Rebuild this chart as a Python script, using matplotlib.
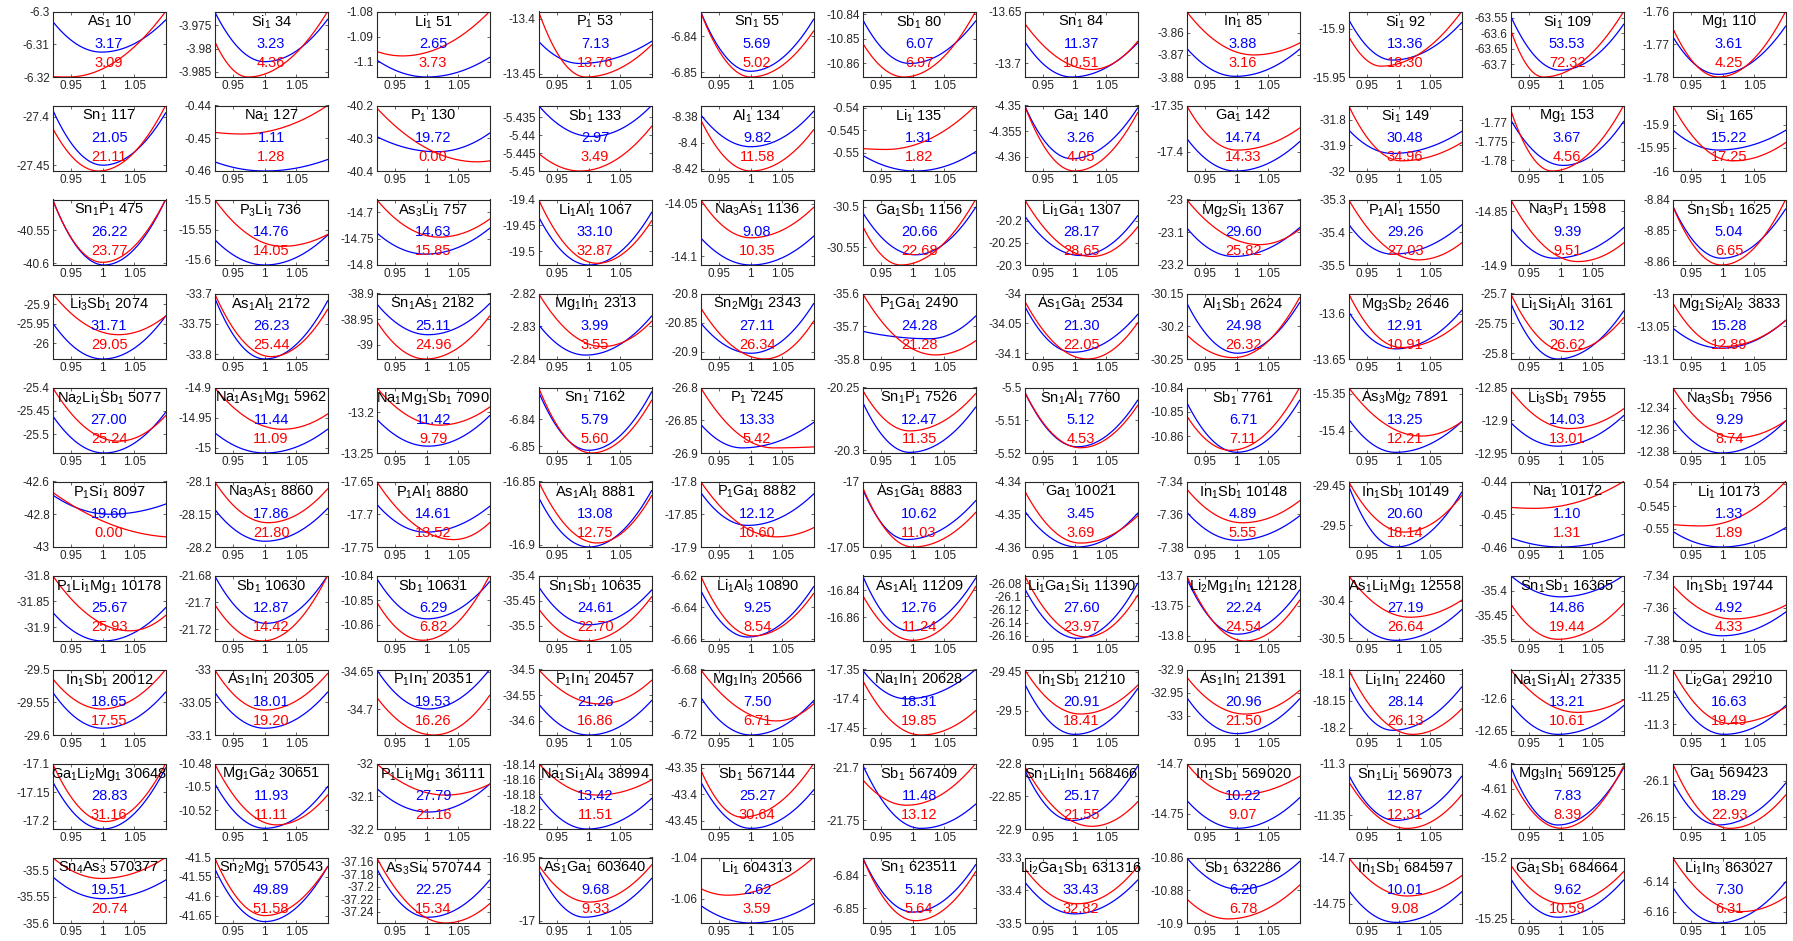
import re
import numpy as np
import matplotlib
matplotlib.use("Agg")
import matplotlib.pyplot as plt

plt.rcParams['font.family'] = ['Liberation Sans', 'DejaVu Sans']
plt.rcParams['mathtext.default'] = 'regular'

# compounds, in grid order (11 per row)
formulas = [
    'As_1', 'Si_1', 'Li_1', 'P_1', 'Sn_1', 'Sb_1', 'Sn_1', 'In_1', 'Si_1', 'Si_1', 'Mg_1',
    'Sn_1', 'Na_1', 'P_1', 'Sb_1', 'Al_1', 'Li_1', 'Ga_1', 'Ga_1', 'Si_1', 'Mg_1', 'Si_1',
    'Sn_1P_1', 'P_3Li_1', 'As_3Li_1', 'Li_1Al_1', 'Na_3As_1', 'Ga_1Sb_1', 'Li_1Ga_1', 'Mg_2Si_1', 'P_1Al_1', 'Na_3P_1', 'Sn_1Sb_1',
    'Li_3Sb_1', 'As_1Al_1', 'Sn_1As_1', 'Mg_1In_1', 'Sn_2Mg_1', 'P_1Ga_1', 'As_1Ga_1', 'Al_1Sb_1', 'Mg_3Sb_2', 'Li_1Si_1Al_1', 'Mg_1Si_2Al_2',
    'Na_2Li_1Sb_1', 'Na_1As_1Mg_1', 'Na_1Mg_1Sb_1', 'Sn_1', 'P_1', 'Sn_1P_1', 'Sn_1Al_1', 'Sb_1', 'As_3Mg_2', 'Li_3Sb_1', 'Na_3Sb_1',
    'P_1Si_1', 'Na_3As_1', 'P_1Al_1', 'As_1Al_1', 'P_1Ga_1', 'As_1Ga_1', 'Ga_1', 'In_1Sb_1', 'In_1Sb_1', 'Na_1', 'Li_1',
    'P_1Li_1Mg_1', 'Sb_1', 'Sb_1', 'Sn_1Sb_1', 'Li_1Al_3', 'As_1Al_1', 'Li_1Ga_1Si_1', 'Li_2Mg_1In_1', 'As_1Li_1Mg_1', 'Sn_1Sb_1', 'In_1Sb_1',
    'In_1Sb_1', 'As_1In_1', 'P_1In_1', 'P_1In_1', 'Mg_1In_3', 'Na_1In_1', 'In_1Sb_1', 'As_1In_1', 'Li_1In_1', 'Na_1Si_1Al_1', 'Li_2Ga_1',
    'Ga_1Li_2Mg_1', 'Mg_1Ga_2', 'P_1Li_1Mg_1', 'Na_1Si_1Al_4', 'Sb_1', 'Sb_1', 'Sn_1Li_1In_1', 'In_1Sb_1', 'Sn_1Li_1', 'Mg_3In_1', 'Ga_1',
    'Sn_4As_3', 'Sn_2Mg_1', 'As_3Si_4', 'As_1Ga_1', 'Li_1', 'Sn_1', 'Li_2Ga_1Sb_1', 'Sb_1', 'In_1Sb_1', 'Ga_1Sb_1', 'Li_1In_3',
]
ids = [
    10, 34, 51, 53, 55, 80, 84, 85, 92, 109, 110,
    117, 127, 130, 133, 134, 135, 140, 142, 149, 153, 165,
    475, 736, 757, 1067, 1136, 1156, 1307, 1367, 1550, 1598, 1625,
    2074, 2172, 2182, 2313, 2343, 2490, 2534, 2624, 2646, 3161, 3833,
    5077, 5962, 7090, 7162, 7245, 7526, 7760, 7761, 7891, 7955, 7956,
    8097, 8860, 8880, 8881, 8882, 8883, 10021, 10148, 10149, 10172, 10173,
    10178, 10630, 10631, 10635, 10890, 11209, 11390, 12128, 12558, 16365, 19744,
    20012, 20305, 20351, 20457, 20566, 20628, 21210, 21391, 22460, 27335, 29210,
    30648, 30651, 36111, 38994, 567144, 567409, 568466, 569020, 569073, 569125, 569423,
    570377, 570543, 570744, 603640, 604313, 623511, 631316, 632286, 684597, 684664, 863027,
]
# bulk moduli: reference (blue) and model (red)
k_blue = [
    3.17, 3.23, 2.65, 7.13, 5.69, 6.07, 11.37, 3.88, 13.36, 53.53, 3.61,
    21.05, 1.11, 19.72, 2.97, 9.82, 1.31, 3.26, 14.74, 30.48, 3.67, 15.22,
    26.22, 14.76, 14.63, 33.10, 9.08, 20.66, 28.17, 29.60, 29.26, 9.39, 5.04,
    31.71, 26.23, 25.11, 3.99, 27.11, 24.28, 21.30, 24.98, 12.91, 30.12, 15.28,
    27.00, 11.44, 11.42, 5.79, 13.33, 12.47, 5.12, 6.71, 13.25, 14.03, 9.29,
    19.60, 17.86, 14.61, 13.08, 12.12, 10.62, 3.45, 4.89, 20.60, 1.10, 1.33,
    25.67, 12.87, 6.29, 24.61, 9.25, 12.76, 27.60, 22.24, 27.19, 14.86, 4.92,
    18.65, 18.01, 19.53, 21.26, 7.50, 18.31, 20.91, 20.96, 28.14, 13.21, 16.63,
    28.83, 11.93, 27.79, 13.42, 25.27, 11.48, 25.17, 10.22, 12.87, 7.83, 18.29,
    19.51, 49.89, 22.25, 9.68, 2.62, 5.18, 33.43, 6.20, 10.01, 9.62, 7.30,
]
k_red = [
    3.09, 4.36, 3.73, 13.76, 5.02, 6.97, 10.51, 3.16, 18.30, 72.32, 4.25,
    21.11, 1.28, 0.00, 3.49, 11.58, 1.82, 4.05, 14.33, 34.96, 4.56, 17.25,
    23.77, 14.05, 15.85, 32.87, 10.35, 22.68, 28.65, 25.82, 27.03, 9.51, 6.65,
    29.05, 25.44, 24.96, 3.55, 26.34, 21.28, 22.05, 26.32, 10.91, 26.62, 12.89,
    25.24, 11.09, 9.79, 5.60, 5.42, 11.35, 4.53, 7.11, 12.21, 13.01, 8.74,
    0.00, 21.80, 13.52, 12.75, 10.60, 11.03, 3.69, 5.55, 18.14, 1.31, 1.89,
    25.93, 14.42, 6.82, 22.70, 8.54, 11.24, 23.97, 24.54, 26.64, 19.44, 4.33,
    17.55, 19.20, 16.26, 16.86, 6.71, 19.85, 18.41, 21.50, 26.13, 10.61, 19.49,
    31.16, 11.11, 21.16, 11.51, 30.64, 13.12, 21.55, 9.07, 12.31, 8.39, 22.93,
    20.74, 51.58, 15.34, 9.33, 3.59, 5.64, 32.82, 6.78, 9.08, 10.59, 6.31,
]
# energy axis range of each panel
ylims = [
    (-6.32, -6.30), (-3.9861, -3.9720), (-1.1061, -1.08), (-13.4531, -13.3935), (-6.8514, -6.8330), (-10.8655, -10.8389),
    (-13.7131, -13.65), (-3.88, -3.8503), (-15.95, -15.8823), (-63.7413, -63.5304), (-1.78, -1.76),
    (-27.4559, -27.3881), (-0.46, -0.44), (-40.4, -40.2), (-5.45, -5.4318), (-8.4218, -8.3711), (-0.5541, -0.5395),
    (-4.3628, -4.35), (-17.4208, -17.35), (-32.0, -31.7447), (-1.7829, -1.7653), (-16.0, -15.8584),
    (-40.6026, -40.5031), (-15.6084, -15.5), (-14.8, -14.6753), (-19.5261, -19.4), (-14.1081, -14.0458), (-30.5717, -30.4913),
    (-20.3, -20.1515), (-23.2, -23.0), (-35.5, -35.3), (-14.9, -14.8391), (-8.8613, -8.84),
    (-26.0409, -25.8722), (-33.8078, -33.7), (-39.0276, -38.9), (-2.84, -2.82), (-20.9128, -20.8), (-35.8, -35.6),
    (-34.1096, -34.0), (-30.25, -30.15), (-13.65, -13.5776), (-25.8096, -25.7), (-13.1, -13.0),
    (-25.5399, -25.4), (-15.0084, -14.9), (-13.25, -13.1696), (-6.8525, -6.8284), (-26.9, -26.8), (-20.3022, -20.25),
    (-5.52, -5.50), (-10.867, -10.84), (-15.4295, -15.3418), (-12.95, -12.85), (-12.3816, -12.3213),
    (-43.0, -42.6), (-28.2, -28.1), (-17.75, -17.65), (-16.9019, -16.85), (-17.9, -17.8), (-17.05, -17.0),
    (-4.36, -4.34), (-7.38, -7.34), (-29.5271, -29.4449), (-0.46, -0.44), (-0.5541, -0.5395),
    (-31.9261, -31.8), (-21.7289, -21.68), (-10.8666, -10.84), (-35.5304, -35.4), (-6.6611, -6.62), (-16.8775, -16.8293),
    (-26.1677, -26.0682), (-13.8084, -13.7), (-30.5073, -30.3318), (-35.5035, -35.3685), (-7.3804, -7.34),
    (-29.6, -29.5), (-33.1, -33.0), (-34.735, -34.6468), (-34.6276, -34.5), (-6.72, -6.68), (-17.4628, -17.35),
    (-29.5313, -29.447), (-33.0416, -32.9), (-18.2138, -18.0925), (-12.6563, -12.5542), (-11.3198, -11.2),
    (-17.2149, -17.1), (-10.5359, -10.48), (-32.2, -32.0), (-18.2268, -18.1386), (-43.4661, -43.3416), (-21.7581, -21.6958),
    (-22.9, -22.8), (-14.7652, -14.7), (-11.3631, -11.3), (-4.6261, -4.6), (-26.1664, -26.0762),
    (-35.6, -35.4764), (-41.6691, -41.5), (-37.2584, -37.1535), (-17.0019, -16.95), (-1.0718, -1.04), (-6.8545, -6.8347),
    (-33.5, -33.3), (-10.9, -10.86), (-14.7708, -14.7), (-15.2533, -15.2), (-6.1677, -6.1236),
]
yticks = [
    [-6.32, -6.31, -6.3], [-3.985, -3.98, -3.975], [-1.1, -1.09, -1.08], [-13.45, -13.4], [-6.85, -6.84], [-10.86, -10.85, -10.84],
    [-13.7, -13.65], [-3.88, -3.87, -3.86], [-15.95, -15.9], [-63.7, -63.65, -63.6, -63.55], [-1.78, -1.77, -1.76],
    [-27.45, -27.4], [-0.46, -0.45, -0.44], [-40.4, -40.3, -40.2], [-5.45, -5.445, -5.44, -5.435], [-8.42, -8.4, -8.38], [-0.55, -0.545, -0.54],
    [-4.36, -4.355, -4.35], [-17.4, -17.35], [-32, -31.9, -31.8], [-1.78, -1.775, -1.77], [-16, -15.95, -15.9],
    [-40.6, -40.55], [-15.6, -15.55, -15.5], [-14.8, -14.75, -14.7], [-19.5, -19.45, -19.4], [-14.1, -14.05], [-30.55, -30.5],
    [-20.3, -20.25, -20.2], [-23.2, -23.1, -23], [-35.5, -35.4, -35.3], [-14.9, -14.85], [-8.86, -8.85, -8.84],
    [-26, -25.95, -25.9], [-33.8, -33.75, -33.7], [-39, -38.95, -38.9], [-2.84, -2.83, -2.82], [-20.9, -20.85, -20.8], [-35.8, -35.7, -35.6],
    [-34.1, -34.05, -34], [-30.25, -30.2, -30.15], [-13.65, -13.6], [-25.8, -25.75, -25.7], [-13.1, -13.05, -13],
    [-25.5, -25.45, -25.4], [-15, -14.95, -14.9], [-13.25, -13.2], [-6.85, -6.84], [-26.9, -26.85, -26.8], [-20.3, -20.25],
    [-5.52, -5.51, -5.5], [-10.86, -10.85, -10.84], [-15.4, -15.35], [-12.95, -12.9, -12.85], [-12.38, -12.36, -12.34],
    [-43, -42.8, -42.6], [-28.2, -28.15, -28.1], [-17.75, -17.7, -17.65], [-16.9, -16.85], [-17.9, -17.85, -17.8], [-17.05, -17],
    [-4.36, -4.35, -4.34], [-7.38, -7.36, -7.34], [-29.5, -29.45], [-0.46, -0.45, -0.44], [-0.55, -0.545, -0.54],
    [-31.9, -31.85, -31.8], [-21.72, -21.7, -21.68], [-10.86, -10.85, -10.84], [-35.5, -35.45, -35.4], [-6.66, -6.64, -6.62], [-16.86, -16.84],
    [-26.16, -26.14, -26.12, -26.1, -26.08], [-13.8, -13.75, -13.7], [-30.5, -30.4], [-35.5, -35.45, -35.4], [-7.38, -7.36, -7.34],
    [-29.6, -29.55, -29.5], [-33.1, -33.05, -33], [-34.7, -34.65], [-34.6, -34.55, -34.5], [-6.72, -6.7, -6.68], [-17.45, -17.4, -17.35],
    [-29.5, -29.45], [-33, -32.95, -32.9], [-18.2, -18.15, -18.1], [-12.65, -12.6], [-11.3, -11.25, -11.2],
    [-17.2, -17.15, -17.1], [-10.52, -10.5, -10.48], [-32.2, -32.1, -32], [-18.22, -18.2, -18.18, -18.16, -18.14], [-43.45, -43.4, -43.35], [-21.75, -21.7],
    [-22.9, -22.85, -22.8], [-14.75, -14.7], [-11.35, -11.3], [-4.62, -4.61, -4.6], [-26.15, -26.1],
    [-35.6, -35.55, -35.5], [-41.65, -41.6, -41.55, -41.5], [-37.24, -37.22, -37.2, -37.18, -37.16], [-17, -16.95], [-1.06, -1.04], [-6.85, -6.84],
    [-33.5, -33.4, -33.3], [-10.9, -10.88, -10.86], [-14.75, -14.7], [-15.25, -15.2], [-6.16, -6.14],
]
# fitted E(a) curves: (E at a=0.92, a at minimum, E minimum, E at a=1.10)
blue_fit = [
    (-6.3030, 0.998, -6.3124, -6.3026), (-3.9720, 1.000, -3.9828, -3.9737), (-1.0993, 1.000, -1.1061, -1.0983),
    (-13.4207, 0.986, -13.4408, -13.4207), (-6.8330, 0.999, -6.8498, -6.8352), (-10.8421, 0.995, -10.8600, -10.8428),
    (-13.6788, 0.995, -13.7131, -13.6804), (-3.8669, 0.998, -3.8797, -3.8674), (-15.8904, 0.990, -15.9325, -15.8938),
    (-63.5446, 0.999, -63.7194, -63.5719), (-1.7676, 0.993, -1.7792, -1.7645),
    (-27.3923, 1.000, -27.4499, -27.3958), (-0.4572, 1.000, -0.4600, -0.4565), (-40.2948, 1.016, -40.3412, -40.2845),
    (-5.4318, 1.004, -5.4404, -5.4318), (-8.3781, 1.000, -8.4030, -8.3756), (-0.5506, 1.004, -0.5541, -0.5498),
    (-4.3500, 0.995, -4.3604, -4.3505), (-17.3854, 0.998, -17.4208, -17.3891), (-31.8394, 0.990, -31.9316, -31.8461),
    (-1.7691, 1.004, -1.7814, -1.7696), (-15.9109, 0.993, -15.9547, -15.9122),
    (-40.5031, 1.002, -40.6026, -40.5031), (-15.5662, 1.000, -15.6084, -15.5590), (-14.7387, 0.998, -14.7793, -14.7302),
    (-19.4333, 1.000, -19.5261, -19.4248), (-14.0822, 1.000, -14.1081, -14.0807), (-30.5071, 1.004, -30.5592, -30.5009),
    (-20.1885, 1.009, -20.2785, -20.1885), (-23.0860, 0.995, -23.1740, -23.0860), (-35.3756, 0.990, -35.4668, -35.3778),
    (-14.8653, 0.990, -14.8937, -14.8653), (-8.8420, 0.998, -8.8591, -8.8431),
    (-25.9478, 1.000, -26.0409, -25.9304), (-33.7067, 1.000, -33.8078, -33.7122), (-38.9198, 1.002, -38.9803, -38.9198),
    (-2.8295, 0.995, -2.8388, -2.8269), (-20.8505, 1.000, -20.9029, -20.8175), (-35.7154, 1.027, -35.7382, -35.6690),
    (-34.0209, 0.997, -34.0983, -34.0351), (-30.1639, 1.001, -30.2412, -30.1639), (-13.5977, 0.995, -13.6388, -13.5963),
    (-25.7152, 0.995, -25.8096, -25.7294), (-13.0526, 0.998, -13.0835, -13.0412),
    (-25.4602, 1.002, -25.5399, -25.4529), (-14.9747, 1.000, -15.0084, -14.9691), (-13.2083, 1.002, -13.2416, -13.2042),
    (-6.8300, 1.000, -6.8515, -6.8300), (-26.8560, 0.986, -26.8922, -26.8534), (-20.2616, 0.995, -20.3017, -20.2657),
    (-5.5013, 1.004, -5.5181, -5.5039), (-10.8460, 1.000, -10.8667, -10.8453), (-15.3841, 0.995, -15.4286, -15.3877),
    (-12.9034, 0.995, -12.9396, -12.8930), (-12.3504, 0.998, -12.3816, -12.3520),
    (-42.6825, 1.011, -42.8000, -42.7380), (-28.1423, 1.000, -28.1912, -28.1412), (-17.6845, 0.998, -17.7273, -17.6880),
    (-16.8626, 1.000, -16.9019, -16.8572), (-17.8165, 0.995, -17.8670, -17.8191), (-17.0057, 0.990, -17.0443, -17.0147),
    (-4.3490, 1.004, -4.3600, -4.3497), (-7.3586, 1.000, -7.3759, -7.3610), (-29.4500, 0.995, -29.5271, -29.4585),
    (-0.4572, 1.000, -0.4600, -0.4562), (-0.5506, 0.998, -0.5541, -0.5498),
    (-31.8706, 1.000, -31.9261, -31.8620), (-21.6800, 1.002, -21.7157, -21.6800), (-10.8411, 1.000, -10.8576, -10.8425),
    (-35.4222, 1.000, -35.4980, -35.4290), (-6.6292, 0.995, -6.6586, -6.6270), (-16.8293, 0.995, -16.8700, -16.8313),
    (-26.0878, 1.004, -26.1636, -26.0801), (-13.7045, 1.001, -13.7971, -13.7242), (-30.4301, 0.995, -30.5055, -30.4236),
    (-35.3685, 1.000, -35.4125, -35.3685), (-7.3616, 0.998, -7.3772, -7.3626),
    (-29.5345, 1.000, -29.5897, -29.5345), (-33.0345, 1.000, -33.0897, -33.0345), (-34.6468, 1.002, -34.7000, -34.6468),
    (-34.5671, 1.000, -34.6276, -34.5605), (-6.6969, 1.000, -6.7200, -6.6990), (-17.3511, 0.990, -17.4005, -17.3500),
    (-29.4652, 1.000, -29.5305, -29.4718), (-32.9599, 1.000, -33.0386, -32.9634), (-18.1218, 0.990, -18.2051, -18.1250),
    (-12.6079, 0.995, -12.6553, -12.6106), (-11.2352, 1.002, -11.3186, -11.2661),
    (-17.1316, 1.000, -17.2149, -17.1077), (-10.4968, 1.000, -10.5353, -10.4997), (-32.0756, 1.002, -32.1482, -32.0632),
    (-18.1811, 0.997, -18.2268, -18.1857), (-43.3758, 1.000, -43.4649, -43.3919), (-21.6970, 1.013, -21.7575, -21.7345),
    (-22.8093, 0.995, -22.8870, -22.8041), (-14.7365, 1.000, -14.7645, -14.7341), (-11.3107, 0.995, -11.3549, -11.3124),
    (-4.6011, 0.995, -4.6245, -4.6018), (-26.1010, 0.993, -26.1608, -26.1033),
    (-35.5127, 1.000, -35.5541, -35.5190), (-41.5279, 1.000, -41.6655, -41.5235), (-37.1708, 1.002, -37.2492, -37.1897),
    (-16.9599, 0.993, -16.9973, -16.9666), (-1.0633, 1.000, -1.0718, -1.0624), (-6.8347, 1.000, -6.8512, -6.8369),
    (-33.3742, 1.000, -33.4722, -33.3690), (-10.8600, 1.004, -10.8794, -10.8625), (-14.7354, 0.995, -14.7701, -14.7372),
    (-15.2171, 0.995, -15.2486, -15.2184), (-6.1434, 0.993, -6.1677, -6.1400),
]
red_fit = [
    (-6.3199, 0.945, -6.3200, -6.3000), (-3.9784, 0.973, -3.9861, -3.9720), (-1.0959, 0.961, -1.0977, -1.0800),
    (-13.3935, 0.995, -13.4531, -13.4239), (-6.8331, 1.000, -6.8514, -6.8385), (-10.8517, 0.986, -10.8655, -10.8389),
    (-13.6614, 1.027, -13.7059, -13.6788), (-3.8503, 1.027, -3.8700, -3.8646), (-15.9079, 0.972, -15.9388, -15.8823),
    (-63.5884, 0.972, -63.7413, -63.5304), (-1.7650, 0.993, -1.7800, -1.7600),
    (-27.4115, 0.993, -27.4559, -27.3881), (-0.4482, 0.964, -0.4487, -0.4400), (-40.2072, 1.080, -40.3720, -40.3690),
    (-5.4451, 0.986, -5.4500, -5.4376), (-8.3820, 1.000, -8.4218, -8.3899), (-0.5491, 0.957, -0.5493, -0.5395),
    (-4.3500, 1.000, -4.3628, -4.3514), (-17.3500, 1.000, -17.3982, -17.3744), (-31.7447, 1.004, -31.9604, -31.8895),
    (-1.7664, 0.986, -1.7829, -1.7653), (-15.8584, 1.016, -15.9781, -15.9387),
    (-40.5031, 0.999, -40.5985, -40.5031), (-15.5000, 1.028, -15.5775, -15.5579), (-14.6753, 1.020, -14.7470, -14.7127),
    (-19.4000, 1.013, -19.5228, -19.4411), (-14.0458, 1.000, -14.0822, -14.0533), (-30.5238, 0.981, -30.5717, -30.4913),
    (-20.1515, 1.027, -20.2807, -20.2139), (-23.0000, 1.036, -23.1378, -23.0912), (-35.3000, 1.031, -35.4844, -35.4326),
    (-14.8391, 1.027, -14.8968, -14.8795), (-8.8420, 0.998, -8.8613, -8.8400),
    (-25.8722, 1.025, -25.9783, -25.9304), (-33.7000, 1.010, -33.8039, -33.7261), (-38.9540, 0.998, -39.0276, -38.9440),
    (-2.8200, 1.022, -2.8362, -2.8285), (-20.8244, 1.022, -20.9128, -20.8477), (-35.6000, 1.036, -35.7876, -35.7444),
    (-34.0124, 1.020, -34.1096, -34.0491), (-30.2129, 0.995, -30.2479, -30.1562), (-13.5776, 1.004, -13.6373, -13.6082),
    (-25.7000, 1.009, -25.7972, -25.7407), (-13.0139, 1.002, -13.0809, -13.0412),
    (-25.4000, 1.025, -25.5146, -25.4602), (-14.9000, 1.028, -14.9691, -14.9438), (-13.1696, 1.020, -13.2158, -13.1937),
    (-6.8284, 1.004, -6.8525, -6.8331), (-26.8000, 1.036, -26.8922, -26.8907), (-20.2521, 0.995, -20.2846, -20.2549),
    (-5.5013, 1.009, -5.5184, -5.5055), (-10.8516, 0.990, -10.8659, -10.8400), (-15.3418, 1.036, -15.4068, -15.3877),
    (-12.8541, 1.013, -12.9127, -12.8826), (-12.3213, 1.021, -12.3676, -12.3520),
    (-42.6660, 1.120, -42.9407, -42.9380), (-28.1000, 1.005, -28.1629, -28.1113), (-17.6500, 1.043, -17.7387, -17.7129),
    (-16.8500, 1.013, -16.8987, -16.8612), (-17.8000, 1.041, -17.8845, -17.8706), (-17.0044, 1.000, -17.0500, -17.0237),
    (-4.3428, 1.009, -4.3588, -4.3505), (-7.3445, 1.009, -7.3652, -7.3518), (-29.4449, 1.009, -29.5084, -29.4627),
    (-0.4479, 0.958, -0.4482, -0.4400), (-0.5491, 0.966, -0.5494, -0.5395),
    (-31.8000, 1.043, -31.9065, -31.8770), (-21.7015, 0.996, -21.7289, -21.6800), (-10.8507, 0.993, -10.8663, -10.8400),
    (-35.4662, 0.995, -35.5304, -35.4425), (-6.6200, 1.004, -6.6579, -6.6313), (-16.8438, 1.000, -16.8770, -16.8375),
    (-26.0682, 1.018, -26.1615, -26.0981), (-13.7000, 1.013, -13.8084, -13.7410), (-30.3318, 1.018, -30.4436, -30.3981),
    (-35.4266, 0.995, -35.5000, -35.4266), (-7.3459, 1.016, -7.3668, -7.3584),
    (-29.5139, 0.998, -29.5603, -29.5000), (-33.0000, 1.000, -33.0619, -33.0062), (-34.6841, 1.011, -34.7350, -34.6818),
    (-34.5000, 1.018, -34.5671, -34.5211), (-6.6800, 1.041, -6.7114, -6.7010), (-17.3686, 1.013, -17.4628, -17.4210),
    (-29.4470, 1.009, -29.5043, -29.4674), (-32.9160, 1.013, -32.9963, -32.9453), (-18.0925, 1.022, -18.2126, -18.1656),
    (-12.5542, 1.027, -12.6211, -12.6016), (-11.2000, 1.011, -11.2988, -11.2691),
    (-17.1000, 1.004, -17.2018, -17.1000), (-10.4800, 1.019, -10.5324, -10.5069), (-32.0000, 1.030, -32.0964, -32.0632),
    (-18.1386, 1.013, -18.1811, -18.1606), (-43.3532, 0.986, -43.4436, -43.3416), (-21.7111, 0.990, -21.7355, -21.6958),
    (-22.8041, 1.027, -22.8959, -22.8585), (-14.7000, 1.000, -14.7314, -14.7128), (-11.3174, 1.013, -11.3625, -11.3304),
    (-4.6051, 1.000, -4.6258, -4.6011), (-26.0762, 1.011, -26.1655, -26.1197),
    (-35.4764, 0.998, -35.5160, -35.4764), (-41.5000, 1.000, -41.6500, -41.5235), (-37.1535, 1.030, -37.2584, -37.2276),
    (-16.9559, 1.000, -16.9853, -16.9559), (-1.0551, 0.963, -1.0583, -1.0400), (-6.8347, 1.004, -6.8538, -6.8390),
    (-33.3330, 1.004, -33.4412, -33.3278), (-10.8852, 0.986, -10.8975, -10.8769), (-14.7000, 1.013, -14.7416, -14.7197),
    (-15.2060, 1.004, -15.2376, -15.2115), (-6.1236, 1.030, -6.1600, -6.1502),
]

A0, A1 = 0.92, 1.10
a = np.linspace(A0, A1, 300)


def eos_curve(e_left, a_min, e_min, e_right):
    """Smooth E(a) through the end points and the minimum."""
    left = e_min + (e_left - e_min) * ((a_min - a) / (a_min - A0)) ** 2
    if a_min >= A1:
        return left
    right = e_min + (e_right - e_min) * ((a - a_min) / (A1 - a_min)) ** 2
    return np.where(a < a_min, left, right)


def title_text(formula, num):
    return re.sub(r'_(\d)', r'$_{\1}$', formula) + f' {num}'


W, H = 1793, 941
ncols, nrows = 11, 10
fig = plt.figure(figsize=(W / 100, H / 100), dpi=100)

for n in range(len(formulas)):
    r, c = divmod(n, ncols)
    left = 52.6 + 162 * c
    top = 11.5 + 94 * r
    ax = fig.add_axes([left / W, 1 - (top + 65.5) / H, 113 / W, 65.5 / H])

    ax.plot(a, eos_curve(*blue_fit[n]), color='blue', lw=0.9)
    ax.plot(a, eos_curve(*red_fit[n]), color='red', lw=0.9)

    ax.set_xlim(A0, A1)
    ax.set_ylim(*ylims[n])
    ax.set_xticks([0.95, 1.0, 1.05])
    ax.set_xticklabels(['0.95', '1', '1.05'])
    ax.set_yticks(yticks[n])
    ax.set_yticklabels([f'{t:g}' for t in yticks[n]])
    ax.tick_params(direction='in', length=2, width=0.5, top=True, right=True,
                   labelsize=8.5, pad=2, colors='#262626')
    for s in ax.spines.values():
        s.set_linewidth(0.8)
        s.set_color('#262626')

    ax.text(0.5, 0.84, title_text(formulas[n], ids[n]), transform=ax.transAxes,
            ha='center', va='center', fontsize=10.5, color='black')
    ax.text(0.5, 0.505, f'{k_blue[n]:.2f}', transform=ax.transAxes,
            ha='center', va='center', fontsize=10.5, color='blue')
    ax.text(0.5, 0.215, f'{k_red[n]:.2f}', transform=ax.transAxes,
            ha='center', va='center', fontsize=10.5, color='red')

fig.savefig('out.png', dpi=100)
